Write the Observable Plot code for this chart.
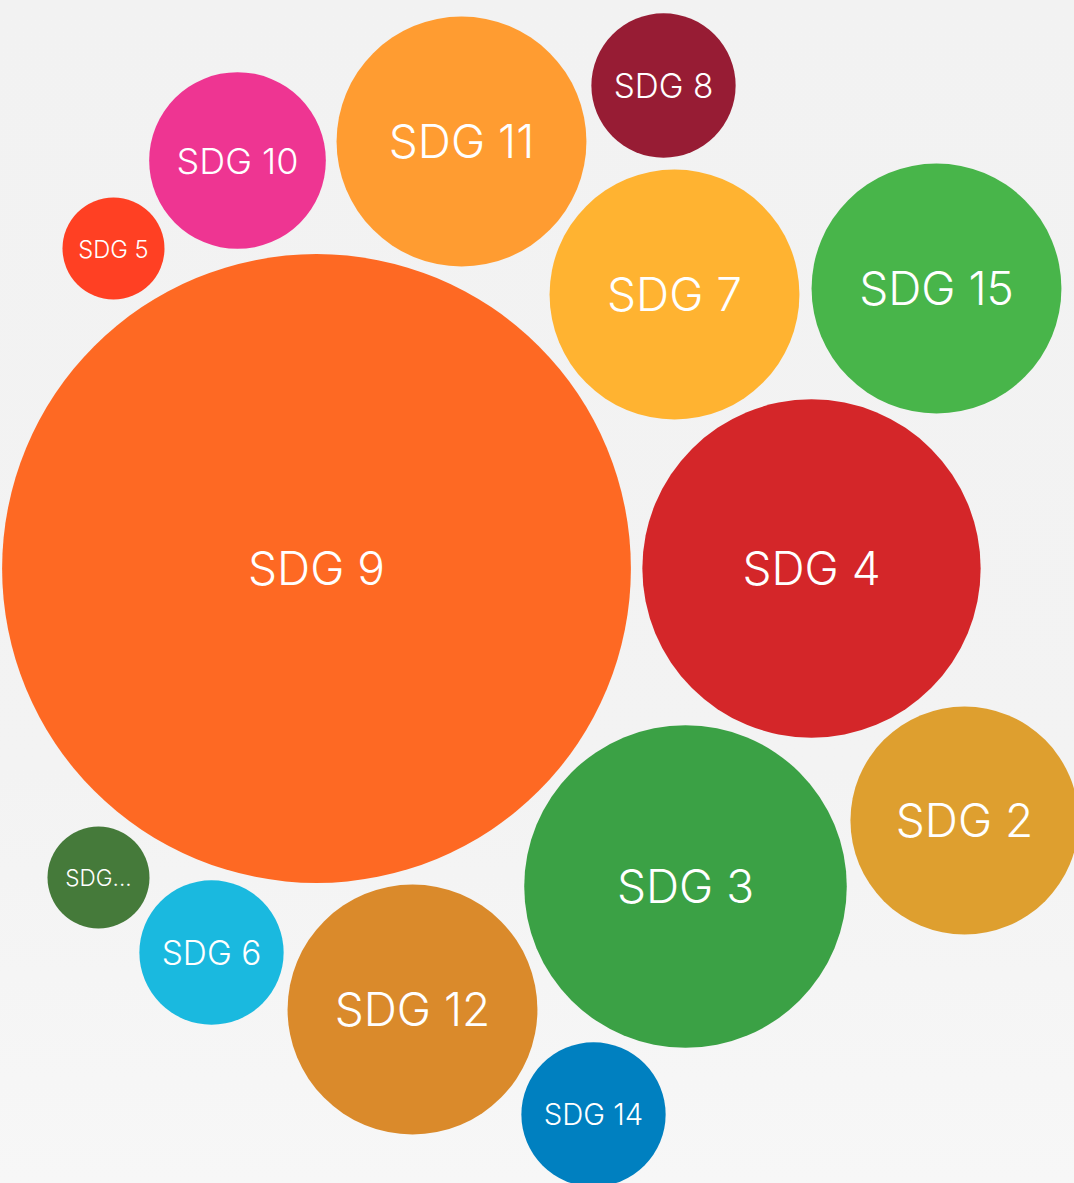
<!DOCTYPE html>
<html><head><meta charset="utf-8">
<script src="https://cdn.jsdelivr.net/npm/d3@7"></script>
<script src="https://cdn.jsdelivr.net/npm/@observablehq/plot@0.6"></script>
<style>
html,body{margin:0;padding:0;width:1074px;height:1183px;overflow:hidden;background:linear-gradient(#f2f2f2,#f3f3f3 65%,#f7f7f7);}
svg{overflow:hidden;}
</style></head><body><div id="chart"></div>
<script>
// Bubble chart: number of items per SDG (bubble area ∝ count)
const goals   = ["SDG 9","SDG 4","SDG 3","SDG 2","SDG 15","SDG 7","SDG 11","SDG 8","SDG 10","SDG 5","SDG 13","SDG 6","SDG 12","SDG 14"];
const counts  = [38, 11, 10, 5, 6, 6, 6, 2, 3, 1, 1, 2, 6, 2];
// layout centres of the packed bubbles
const centerX = [316, 811, 685, 964, 936, 674, 461, 663, 237, 113, 98, 211, 412, 593];
const centerY = [568, 568, 886, 820, 288, 294, 141, 85, 160, 248, 877, 952, 1009, 1114];
const colors  = ["#FE6923","#D42629","#3BA145","#DE9F2F","#48B54A","#FFB331","#FF9C31","#971C34","#EE3592","#FF4023","#457A3A","#1AB9DF","#DA8A2B","#0080C0"];

const W = 1074, H = 1183;
const FONT = "Inter, Lato, sans-serif";
const rScale = {type: "sqrt", domain: [0, 38], range: [0, 314.4]};
const rs = Plot.scale({r: rScale});

const ctx = document.createElement("canvas").getContext("2d");
ctx.font = `300 100px ${FONT}`;
const em = s => ctx.measureText(s).width / 100;
const fMax = 137 / em("SDG 9");
const fMin = fMax * 0.49;

const data = goals.map((g, i) => {
  const r = rs.apply(counts[i]);
  let size = Math.min(fMax, 1.38 * r / em(g));
  let label = g;
  if (size < fMin) {
    size = fMin;
    label = g;
    while (label.length > 1 && em(label + "...") * size > 1.38 * r) label = label.slice(0, -1).trimEnd();
    label = label + "...";
  }
  return {goal: g, count: counts[i], x: centerX[i], y: centerY[i], color: colors[i], label, size};
});

const chart = Plot.plot({
  width: W, height: H,
  margin: 0,
  x: {domain: [0, W], range: [0, W], axis: null},
  y: {domain: [0, H], range: [0, H], axis: null},
  r: rScale,
  style: {background: "transparent", fontFamily: FONT},
  marks: [
    Plot.dot(data, {x: "x", y: "y", r: "count", fill: "color", stroke: null, clip: "frame"}),
    Plot.text(data, {x: "x", y: "y", text: "label", fontSize: "size", fill: "white", fontWeight: 300, dy: 1.5, clip: "frame"})
  ]
});
document.getElementById("chart").append(chart);
</script></body></html>
